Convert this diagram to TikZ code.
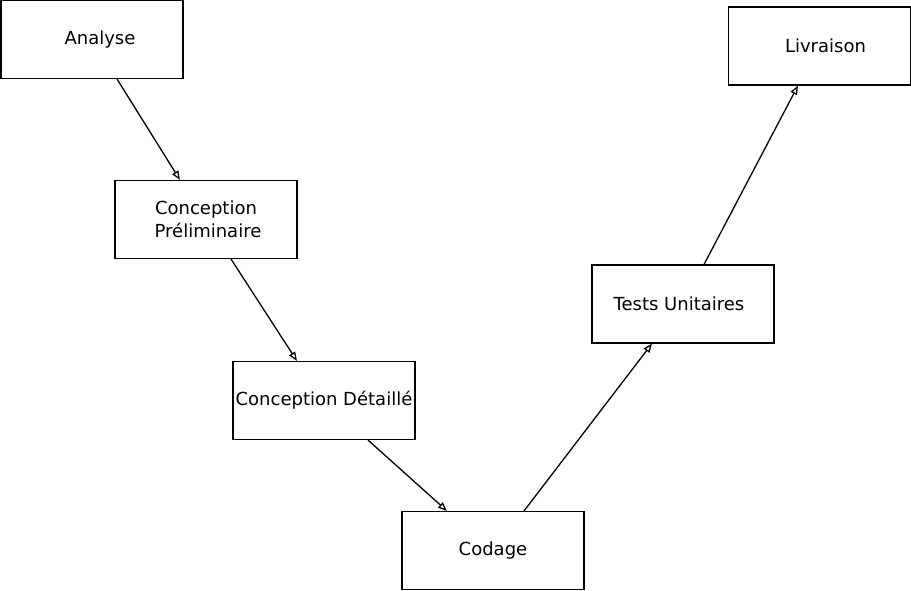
\documentclass[tikz,border=0pt]{standalone}
\usepackage{fontspec}
\setmainfont{DejaVu Sans}
\usetikzlibrary{arrows.meta}
\tikzset{
  etape/.style = {rectangle, draw=black, line width=1.1pt, fill=white,
    minimum width=182pt, minimum height=78pt, inner sep=0pt, align=center,
    font=\fontsize{18}{23}\selectfont},% une etape du cycle en V
  fleche/.style = {-{Triangle[open,length=9pt,width=7pt]}, line width=1.3pt}
}
\begin{document}
\begin{tikzpicture}[x=1pt,y=-1pt]
	\useasboundingbox (0,0) rectangle (911,591);
	\node [etape] (ana) at (92,39.5) {\hspace*{16pt}Analyse};
	\node [etape] (cpre) at (206,219.5) {Conception\\\hspace*{4pt}Préliminaire};
	\node [etape] (cdet) at (324,400.5) {Conception Détaillé};
	\node [etape] (cod) at (493,550.5) {Codage};
	\node [etape] (tu) at (683,304) {Tests Unitaires\hspace*{8pt}};
	\node [etape] (liv) at (819.5,46) {\hspace*{12pt}Livraison};

	\foreach \from/\fs/\to/\ts in {ana/25/cpre/-26,cpre/25/cdet/-27,cdet/44/cod/-46}
	  \draw [fleche] ([xshift=\fs pt]\from.south) -- ([xshift=\ts pt]\to.north);
	\foreach \from/\fs/\to/\ts in {cod/31/tu/-31,tu/21/liv/-21.5}
	  \draw [fleche] ([xshift=\fs pt]\from.north) -- ([xshift=\ts pt]\to.south);
\end{tikzpicture}
\end{document}
